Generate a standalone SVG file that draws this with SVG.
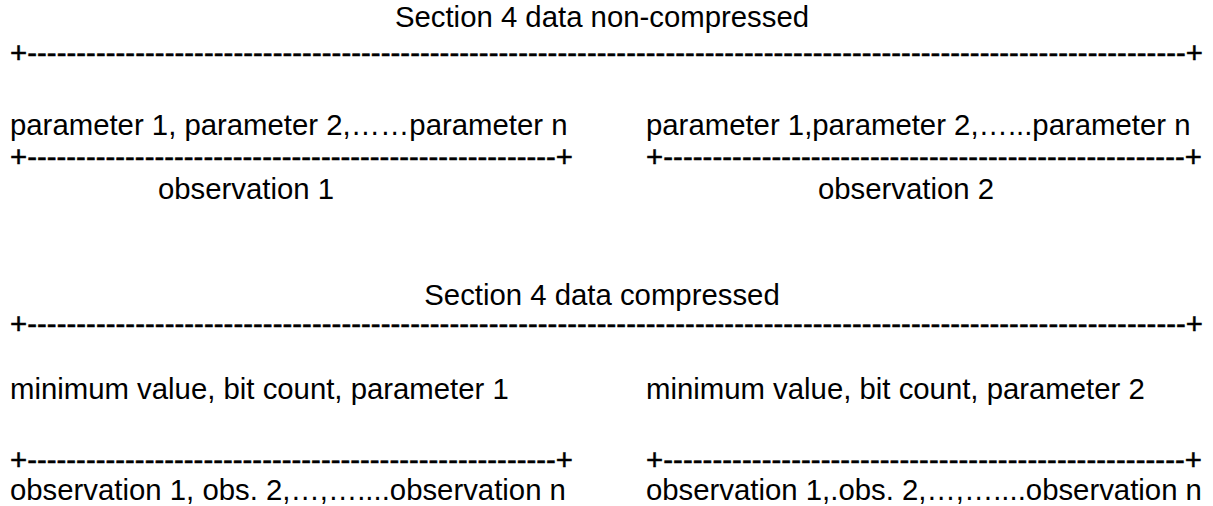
<svg xmlns="http://www.w3.org/2000/svg" width="1213" height="506" viewBox="0 0 1213 506">
<style>
text{font-family:"Liberation Sans",Arial,sans-serif;font-size:29.33px;fill:#000;}
.mid{text-anchor:middle;}
.rule{stroke:#000;stroke-width:0.5;}
</style>
<rect width="1213" height="506" fill="#fff"/>
<g id="noncompressed">
<text id="title1" class="mid" x="602" y="27">Section 4 data non-compressed</text>
<text id="rule1" class="rule" x="10" y="63" textLength="1193" lengthAdjust="spacing">+----------------------------------------------------------------------------------------------------------------------+</text>
<g id="obs1">
<text x="10" y="135">parameter 1, parameter 2,……parameter n</text>
<text class="rule" x="10" y="167" textLength="563" lengthAdjust="spacing">+------------------------------------------------------+</text>
<text x="158" y="199">observation 1</text>
</g>
<g id="obs2">
<text x="646" y="135">parameter 1,parameter 2,…...parameter n</text>
<text class="rule" x="646" y="167" textLength="556" lengthAdjust="spacing">+-----------------------------------------------------+</text>
<text x="818" y="199">observation 2</text>
</g>
</g>
<g id="compressed">
<text id="title2" class="mid" x="602" y="305">Section 4 data compressed</text>
<text id="rule2" class="rule" x="10" y="334" textLength="1193" lengthAdjust="spacing">+----------------------------------------------------------------------------------------------------------------------+</text>
<g id="param1">
<text x="10" y="399">minimum value, bit count, parameter 1</text>
<text class="rule" x="10" y="470" textLength="563" lengthAdjust="spacing">+------------------------------------------------------+</text>
<text x="10" y="500">observation 1, obs. 2,…,…....observation n</text>
</g>
<g id="param2">
<text x="646" y="399">minimum value, bit count, parameter 2</text>
<text class="rule" x="646" y="470" textLength="556" lengthAdjust="spacing">+-----------------------------------------------------+</text>
<text x="646" y="500">observation 1,.obs. 2,…,…....observation n</text>
</g>
</g>
<g id="connectors"/>
</svg>
